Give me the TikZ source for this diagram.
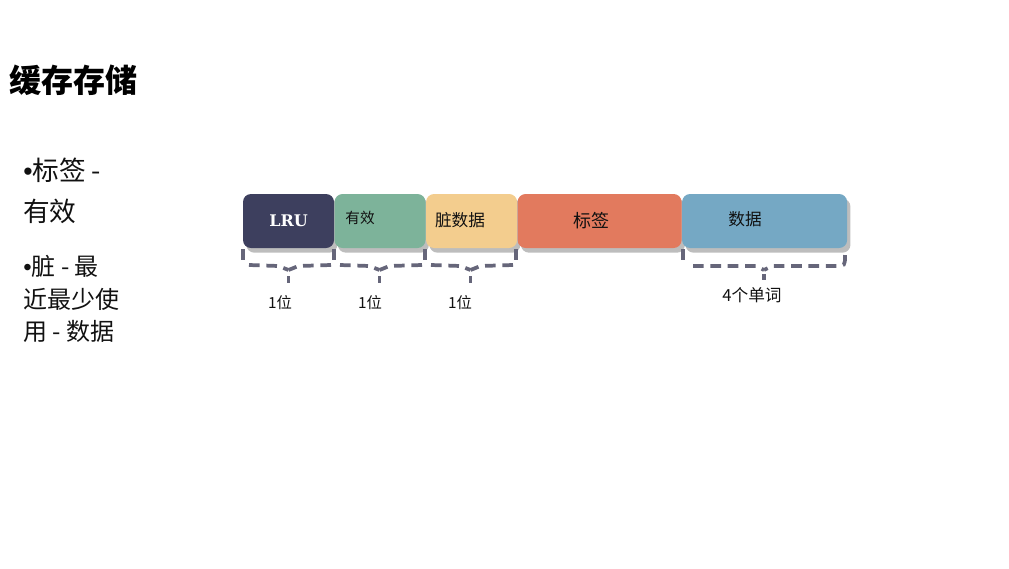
\documentclass[tikz,border=0pt]{standalone}
\usepackage{fontspec}
\setmainfont{Noto Sans CJK SC}
\newfontfamily\lrufont{DejaVu Serif}
\newfontfamily\dotfont{Liberation Sans}
\usepackage{tikz}
\usetikzlibrary{positioning,shadows}
\definecolor{cslru}{HTML}{3D3F5E}
\definecolor{csvalid}{HTML}{7DB39A}
\definecolor{csdirty}{HTML}{F3CD8E}
\definecolor{cstag}{HTML}{E27A5E}
\definecolor{csdata}{HTML}{75A8C4}
\definecolor{csshadow}{HTML}{BDBDBD}
\definecolor{csbrace}{HTML}{66667A}
\definecolor{cstext}{HTML}{111111}
\newcommand{\bul}{{\dotfont •}}

\begin{document}
\begin{tikzpicture}[x=0.75pt,y=-0.75pt,
  seg/.style={rectangle,rounded corners=6pt,minimum height=54*0.75pt,inner sep=0pt,
    drop shadow={shadow xshift=2.5pt,shadow yshift=-3.5pt,fill=csshadow,opacity=1}},
  segtxt/.style={font=\fontsize{12.5}{14}\selectfont,text=cstext},
  bullet/.style={anchor=west,font=\fontsize{18}{22}\selectfont,text=cstext,inner sep=0pt},
  brace/.style={draw=csbrace,line width=2.8pt,dash pattern=on 8pt off 5pt},
  size/.style={font=\fontsize{11.5}{13}\selectfont,text=cstext}]
  \useasboundingbox (0,0) rectangle (1009,568);
  % title and bullets
  \node[anchor=west,inner sep=0pt,font=\fontsize{24}{28}\bfseries\selectfont] (title) at (9,80) {缓存存储};
  \node[bullet,font=\fontsize{20}{24}\selectfont] (b1a) at (23,170) {\bul 标签 -};
  \node[bullet,font=\fontsize{20}{24}\selectfont] (b1b) at (23,211) {有效};
  \node[bullet] (b2a) at (23,266) {\bul 脏 - 最};
  \node[bullet] (b2b) at (23,299) {近最少使};
  \node[bullet] (b2c) at (23,331) {用 - 数据};
  % cache line fields
  \node[seg,fill=cslru,minimum width=91*0.75pt] (lru) at (288.5,221) {};
  \node[seg,fill=csvalid,minimum width=91*0.75pt,right=0pt of lru] (valid) {};
  \node[seg,fill=csdirty,minimum width=91*0.75pt,right=0pt of valid] (dirty) {};
  \node[seg,fill=cstag,minimum width=164*0.75pt,right=0pt of dirty] (tag) {};
  \node[seg,fill=csdata,minimum width=165*0.75pt,right=0pt of tag] (data) {};
  \node[text=white,font=\lrufont\fontsize{12}{14}\bfseries\selectfont] (lrutxt) at (lru.center) {LRU};
  \node[segtxt,font=\fontsize{11}{13}\selectfont] (validtxt) at (360,218) {有效};
  \node[segtxt] (dirtytxt) at (460,220) {脏数据};
  \node[segtxt,font=\fontsize{13.5}{15}\selectfont] (tagtxt) at (591,221) {标签};
  \node[segtxt] (datatxt) at (745,219) {数据};
  % braces
  \foreach \x in {243,334,425,516,683}
    \draw[brace] (\x,249) -- (\x,262);
  \foreach \l/\c/\r in {243/288.5/334,334/379.5/425,425/470.5/516}{
    \draw[brace] (\l+6,265) -- (\c-10,266) -- (\c,270);
    \draw[brace] (\r-3,265) -- (\c+10,266) -- (\c,270);
    \draw[brace] (\c,276) -- (\c,283);
  }
  \draw[brace] (693,266) -- (756,266) -- (764,270);
  \draw[brace] (764,274) -- (764,280);
  \draw[brace] (845,255) .. controls (845,266) .. (835,266) -- (772,266) -- (764,270);
  % sizes
  \node[size] (s1) at (280,303) {1位};
  \node[size] (s2) at (370,303) {1位};
  \node[size] (s3) at (460,303) {1位};
  \node[size,font=\fontsize{12.5}{14}\selectfont] (s4) at (752,295) {4个单词};
\end{tikzpicture}
\end{document}
